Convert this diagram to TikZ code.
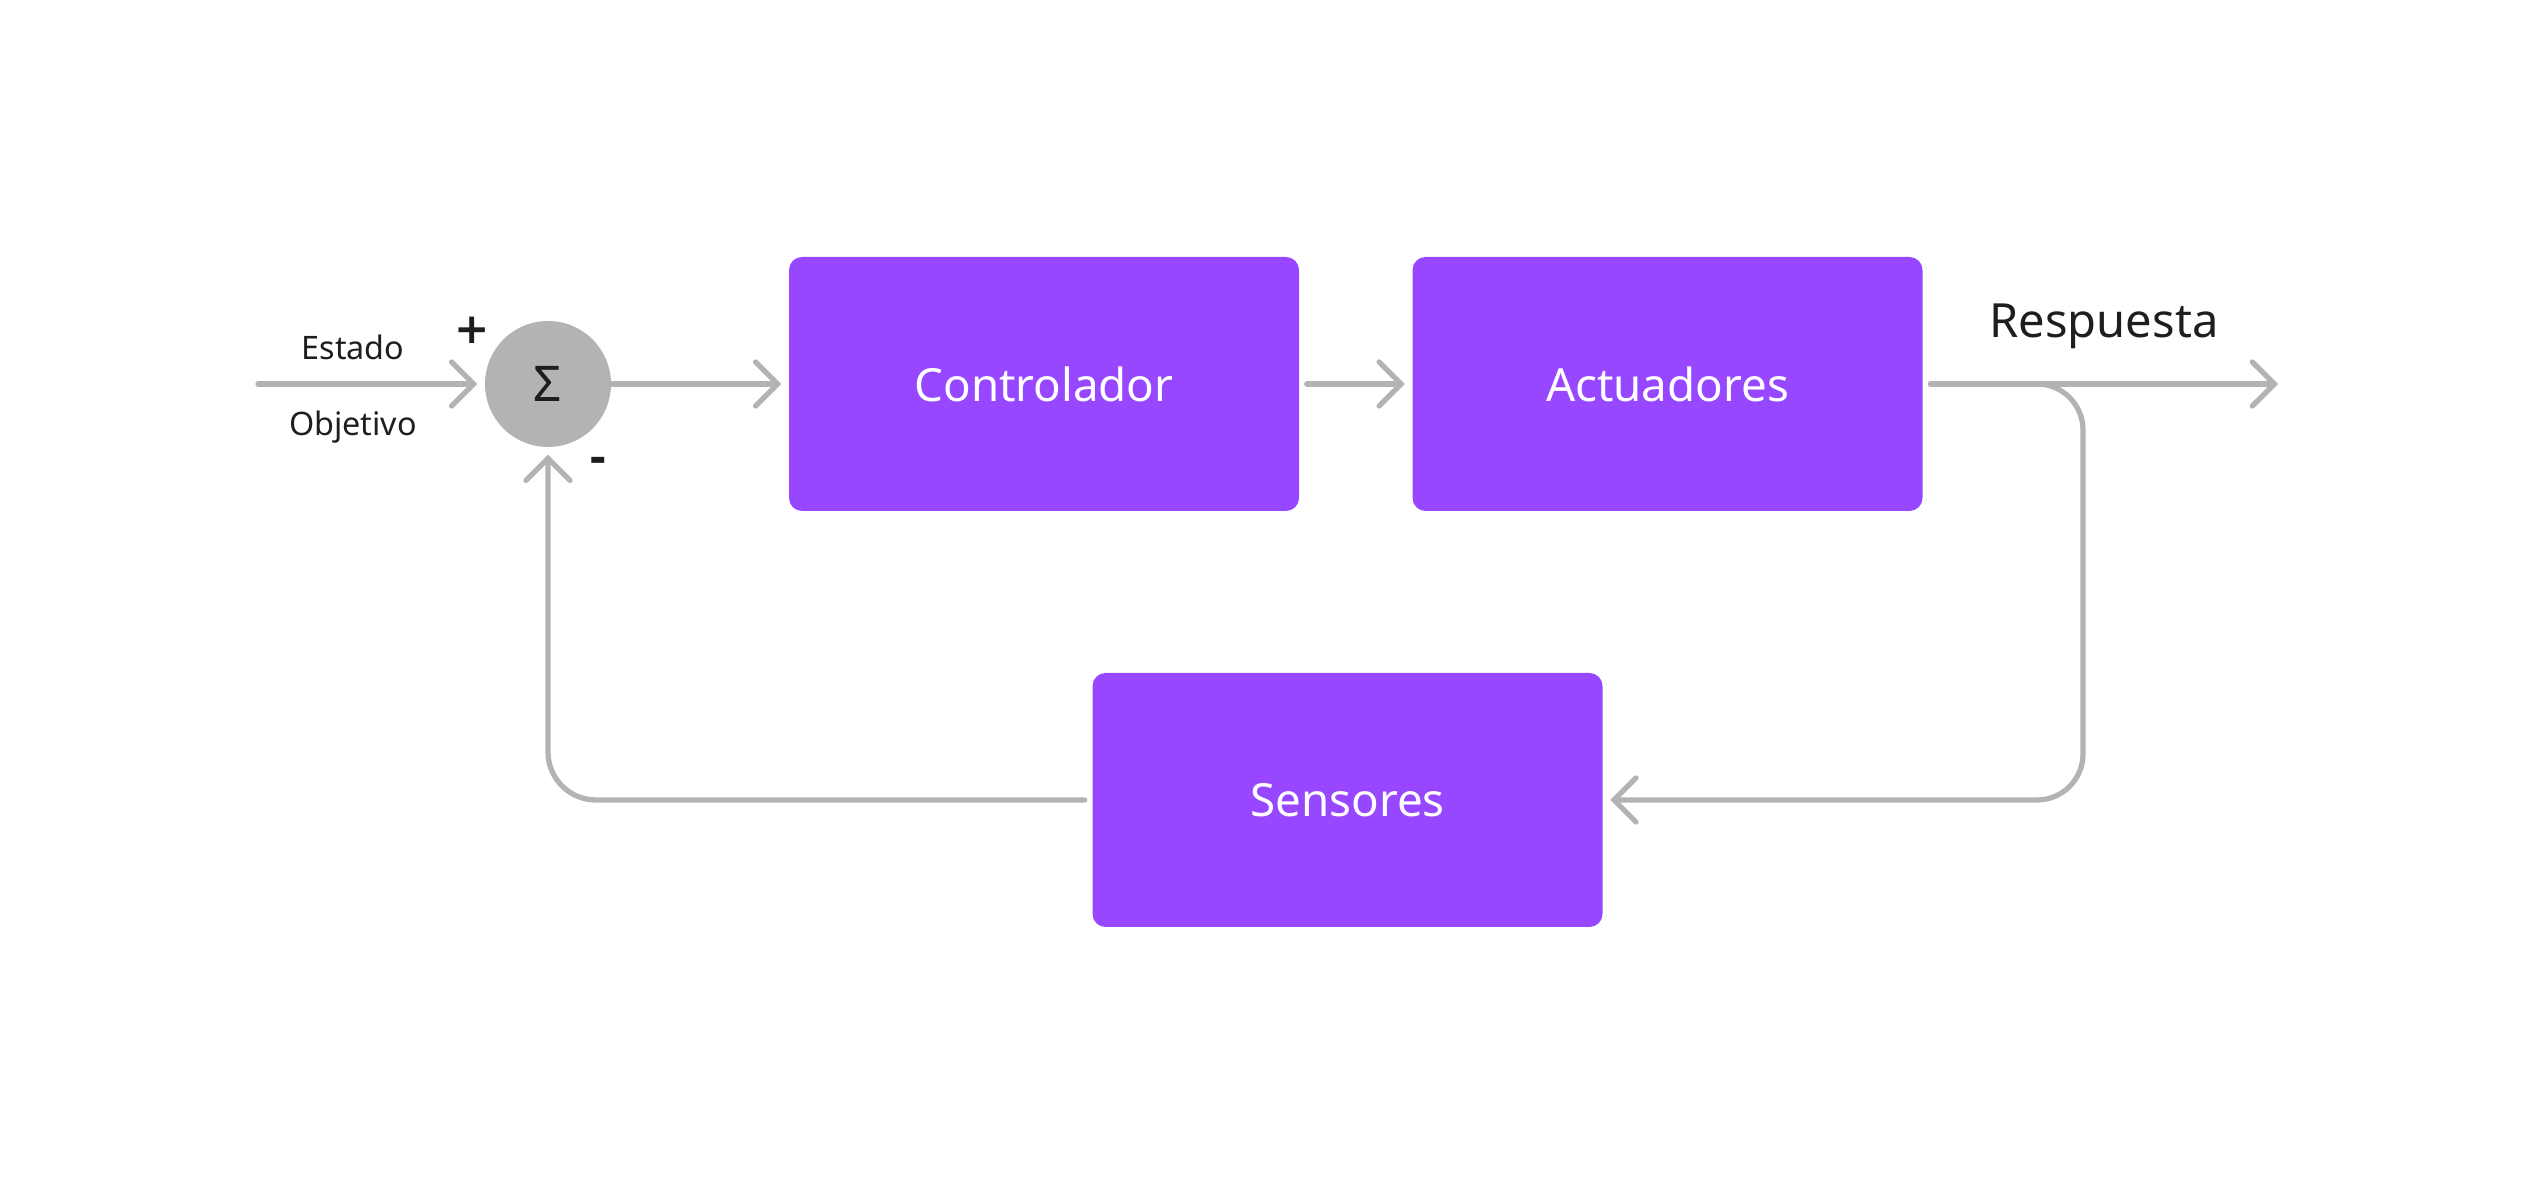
\documentclass[tikz,border=0pt]{standalone}
\usepackage{fontspec}
\setmainfont{Noto Sans}
\newfontfamily\signos{DejaVu Sans}
\usetikzlibrary{arrows.meta,positioning}
\definecolor{morado}{HTML}{9747FF}
\definecolor{gris}{HTML}{B3B3B3}
\definecolor{tinta}{HTML}{1E1E1E}
\tikzset{
  bloque/.style={fill=morado, rounded corners=0.13cm, minimum width=5.1cm,
    minimum height=2.54cm, text=white, font=\fontsize{13}{15}\selectfont},
  suma/.style={circle, fill=gris, minimum size=1.26cm, inner sep=0pt,
    text=tinta, font=\fontsize{14}{16}\selectfont},
  flecha/.style={draw=gris, line width=1.5pt, line cap=round,
    -{Straight Barb[length=0.22cm,width=0.44cm,line cap=round]}},
  etiq/.style={text=tinta, font=\fontsize{9.2}{11}\selectfont},
  signo/.style={text=tinta, font=\signos\fontsize{12}{14}\selectfont\bfseries}
}
\begin{document}
\begin{tikzpicture}
\useasboundingbox (0,0) rectangle (25.34,11.84);

% bloques
\node[suma] (suma) at (5.48,8) {Σ};
\node[bloque] (ctrl) at (10.44,8) {Controlador};
\node[bloque] (act) at (16.675,8) {Actuadores};
\node[bloque] (sens) at (13.475,3.84) {Sensores};

% puntos libres
\coordinate (entrada) at (2.58,8);
\coordinate (salida) at (22.78,8);
\coordinate (rama) at (19.9,8);
\coordinate (codo) at (20.83,8);

% textos
\node[etiq] (estado) at (3.53,8.37) {Estado};
\node[etiq] (objetivo) at (3.53,7.57) {Objetivo};
\node[signo] (mas) at (4.72,8.54) {+};
\node[signo] (menos) at (5.98,7.19) {-};
\node[text=tinta, font=\fontsize{13.4}{16}\selectfont] (resp) at (21.04,8.58) {Respuesta};

% conexiones
\draw[flecha, shorten >=2pt] (entrada) -- (suma);
\draw[flecha, shorten >=2pt] (suma) -- (ctrl);
\draw[flecha, shorten <=2pt, shorten >=2pt] (ctrl) -- (act);
\draw[flecha, shorten <=2pt] (act) -- (salida);
\draw[flecha, rounded corners=0.46cm, shorten >=2pt] (rama) -- (codo) -- (codo |- sens) -- (sens);
\draw[flecha, rounded corners=0.48cm, shorten <=2pt, shorten >=2pt] (sens) -- (sens -| suma) -- (suma);
\end{tikzpicture}
\end{document}
